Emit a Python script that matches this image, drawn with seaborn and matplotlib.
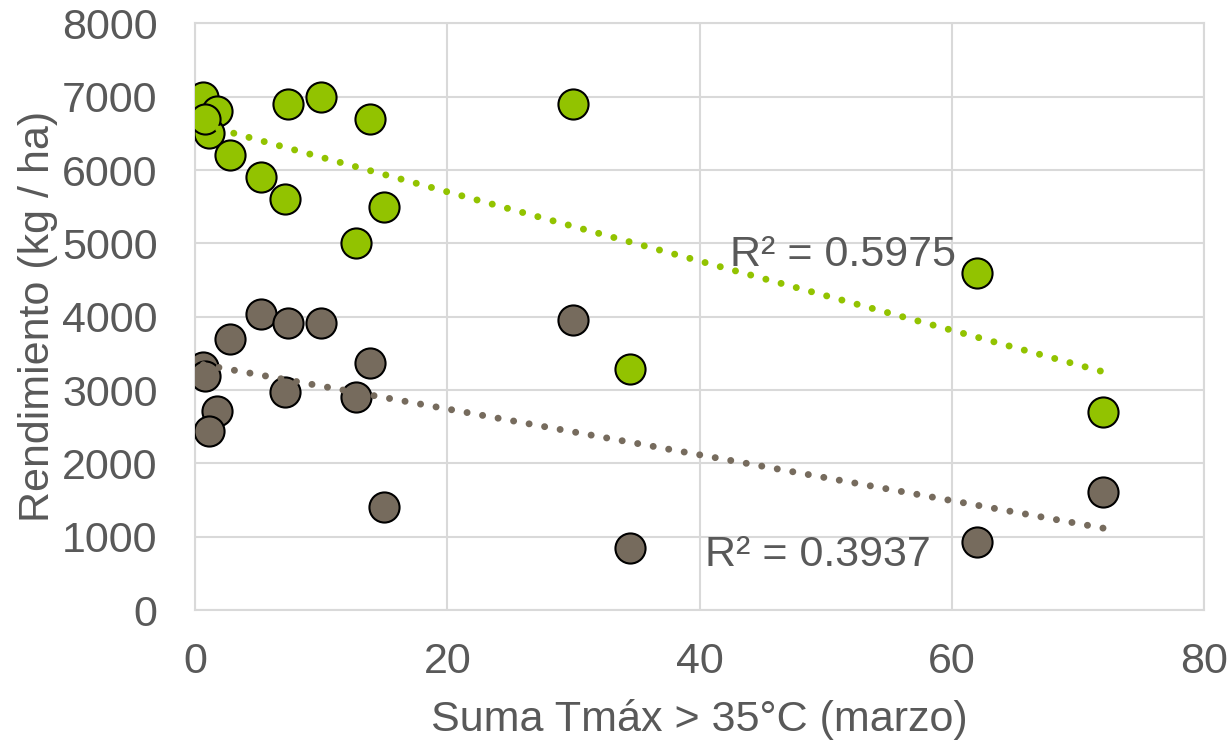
import matplotlib
matplotlib.use('Agg')
import matplotlib.pyplot as plt
import numpy as np
import pandas as pd
import seaborn as sns

# Suma de Tmax > 35 C en marzo
tmax_sum = [0.66, 1.72, 1.1, 0.79, 2.78, 5.2, 7.1, 7.4, 10.0, 13.9, 15.0, 12.8, 30.0, 34.5, 62.0, 72.0]
# rendimiento (kg/ha) - serie verde y serie gris
yield_green = [7000, 6800, 6500, 6700, 6200, 5900, 5600, 6900, 7000, 6700, 5500, 5000, 6900, 3290, 4600, 2700]
yield_gray = [3310, 2720, 2440, 3190, 3700, 4040, 2970, 3910, 3920, 3370, 1410, 2900, 3950, 840, 930, 1615]
r2_labels = ['R² = 0.5975', 'R² = 0.3937']

green = '#92C300'
gray = '#766B5D'
txt = '#595959'

sns.set_style('white')
plt.rcParams['font.family'] = ['Liberation Sans', 'DejaVu Sans']

df = pd.DataFrame({'x': tmax_sum, 'green': yield_green, 'gray': yield_gray})

fig = plt.figure(figsize=(12.29, 7.44), dpi=100)
ax = fig.add_axes([0.1587, 0.1801, 0.8210, 0.7884])

sns.scatterplot(data=df, x='x', y='green', ax=ax, color=green, s=470,
                edgecolor='black', linewidth=1.5, zorder=3)
sns.scatterplot(data=df, x='x', y='gray', ax=ax, color=gray, s=470,
                edgecolor='black', linewidth=1.5, zorder=3)

# linear trendlines (dotted) over the data range
xs = np.array([min(tmax_sum), max(tmax_sum)])
for col, c in [('green', green), ('gray', gray)]:
    m, b = np.polyfit(df['x'], df[col], 1)
    ax.plot(xs, m * xs + b, color=c, lw=5, linestyle=(0, (0.01, 2.26)),
            dash_capstyle='round', solid_capstyle='round', zorder=4)

ax.text(42.4, 4840, r2_labels[0], fontsize=31, color=txt, va='center', ha='left', zorder=5)
ax.text(40.4, 750, r2_labels[1], fontsize=31, color=txt, va='center', ha='left', zorder=5)

ax.set_xlim(0, 80)
ax.set_ylim(0, 8000)
ax.set_xticks([0, 20, 40, 60, 80])
ax.set_yticks(range(0, 8001, 1000))
ax.grid(True, color='#D9D9D9', lw=1.5)
ax.set_axisbelow(True)
for s in ax.spines.values():
    s.set_color('#D9D9D9')
    s.set_linewidth(1.5)
ax.tick_params(length=0, labelsize=31, colors=txt)
ax.tick_params(axis='y', pad=27)
ax.tick_params(axis='x', pad=23)
ax.set_xlabel('Suma Tmáx > 35°C (marzo)', fontsize=31, color=txt, labelpad=12)
ax.set_ylabel('Rendimiento (kg / ha)', fontsize=31, color=txt, labelpad=3)

fig.savefig('out.png', dpi=100)
